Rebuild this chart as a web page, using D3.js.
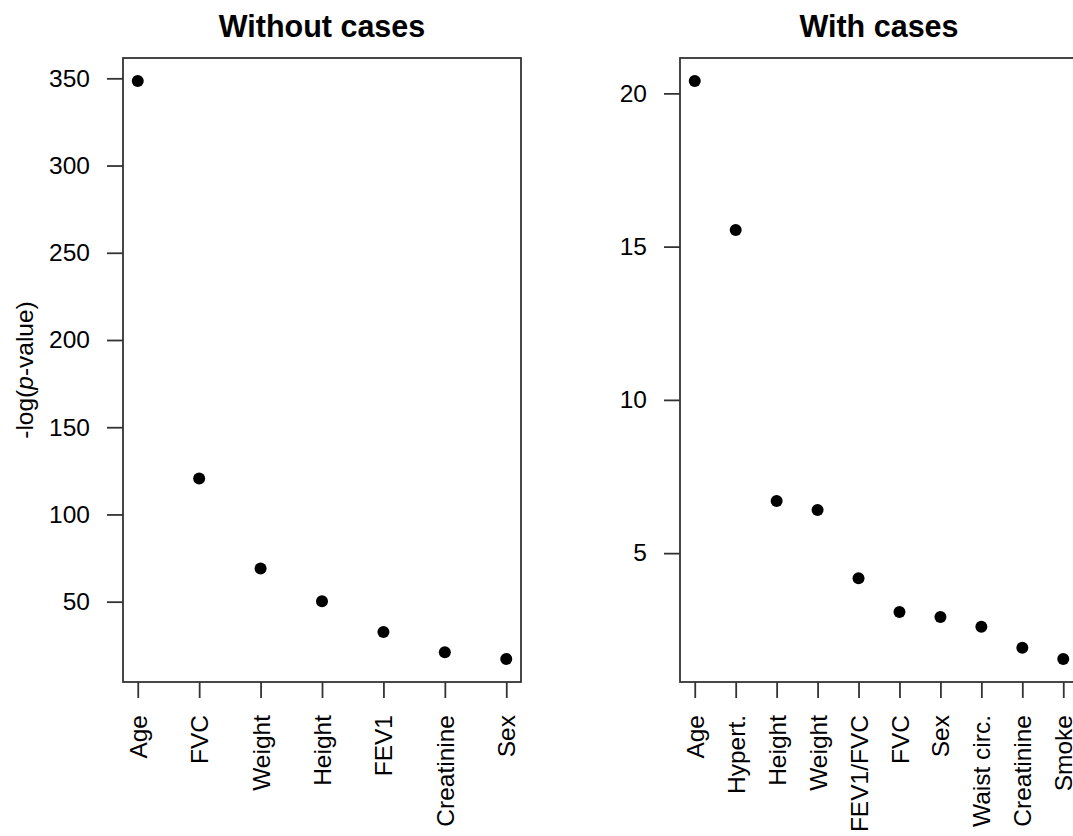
<!DOCTYPE html>
<html>
<head>
<meta charset="utf-8">
<script src="https://cdn.jsdelivr.net/npm/d3@7"></script>
<style>
  html, body { margin: 0; padding: 0; background: #fff; }
  svg { display: block; font-family: "Liberation Sans", Arial, Helvetica, sans-serif; }
</style>
</head>
<body>
<svg id="chart" width="1073" height="836"></svg>
<script>
// ---- Data ----
const leftTitle = "Without cases";
const leftCategories = ["Age", "FVC", "Weight", "Height", "FEV1", "Creatinine", "Sex"];
const leftValues = [348.4, 120.6, 69, 50.3, 32.6, 21, 17.2];
const leftTicks = [50, 100, 150, 200, 250, 300, 350];

const rightTitle = "With cases";
const rightCategories = ["Age", "Hypert.", "Height", "Weight", "FEV1/FVC", "FVC", "Sex", "Waist circ.", "Creatinine", "Smoke"];
const rightValues = [20.4, 15.54, 6.7, 6.41, 4.18, 3.08, 2.92, 2.6, 1.91, 1.55];
const rightTicks = [5, 10, 15, 20];

const yLabel = "-log(p-value)";

// ---- Layout ----
const svg = d3.select("#chart");
const plotTop = 58, plotBottom = 682, plotW = 398;
const fontSize = 24.5;

function panel(x0, title, cats, vals, ticks, showYLabel) {
  const n = cats.length;
  const xs = d3.scaleLinear().domain([1 - (n - 1) * 0.04, n + (n - 1) * 0.04]).range([x0, x0 + plotW]);
  const vmin = d3.min(vals), vmax = d3.max(vals), ext = (vmax - vmin) * 0.04;
  const ys = d3.scaleLinear().domain([vmin - ext, vmax + ext]).range([plotBottom, plotTop]);
  const g = svg.append("g");

  // points
  g.selectAll("circle").data(vals).enter().append("circle")
    .attr("cx", (d, i) => xs(i + 1))
    .attr("cy", d => ys(d))
    .attr("r", 6)
    .attr("fill", "#000");

  // box
  g.append("rect")
    .attr("x", x0).attr("y", plotTop)
    .attr("width", plotW).attr("height", plotBottom - plotTop)
    .attr("fill", "none").attr("stroke", "#333").attr("stroke-width", 1.8);

  // y axis
  const yAxis = d3.axisLeft(ys).tickValues(ticks).tickSize(16).tickPadding(17).tickFormat(d3.format("d"));
  const ya = g.append("g").attr("transform", `translate(${x0},0)`).call(yAxis);
  ya.select(".domain").remove();
  ya.selectAll(".tick line").attr("stroke", "#333").attr("stroke-width", 1.8);
  ya.selectAll(".tick text").attr("font-size", fontSize).attr("fill", "#000")
    .attr("font-family", '"Liberation Sans", Arial, sans-serif');

  // x axis
  const xAxis = d3.axisBottom(xs).tickValues(d3.range(1, n + 1)).tickSize(16).tickFormat(i => cats[i - 1]);
  const xa = g.append("g").attr("transform", `translate(0,${plotBottom})`).call(xAxis);
  xa.select(".domain").remove();
  xa.selectAll(".tick line").attr("stroke", "#333").attr("stroke-width", 1.8);
  xa.selectAll(".tick text")
    .attr("font-size", fontSize).attr("fill", "#000")
    .attr("font-family", '"Liberation Sans", Arial, sans-serif')
    .attr("transform", "rotate(-90)")
    .attr("x", -33).attr("y", 0).attr("dy", "0.35em")
    .attr("text-anchor", "end");

  // title
  g.append("text")
    .attr("x", x0 + plotW / 2).attr("y", 37)
    .attr("text-anchor", "middle")
    .attr("font-size", 30.5).attr("font-weight", "bold").attr("fill", "#000")
    .text(title);

  if (showYLabel) {
    const t = g.append("text")
      .attr("transform", `translate(33,${(plotTop + plotBottom) / 2}) rotate(-90)`)
      .attr("text-anchor", "middle")
      .attr("font-size", fontSize).attr("fill", "#000");
    t.append("tspan").text("-log(");
    t.append("tspan").attr("font-style", "italic").text("p");
    t.append("tspan").text("-value)");
  }
}

panel(123, leftTitle, leftCategories, leftValues, leftTicks, true);
panel(680, rightTitle, rightCategories, rightValues, rightTicks, false);
</script>
</body>
</html>
